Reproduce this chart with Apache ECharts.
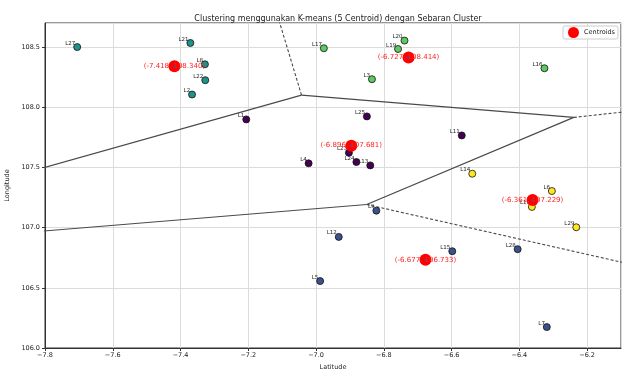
<!DOCTYPE html>
<html>
<head>
<meta charset="utf-8">
<script src="https://cdn.jsdelivr.net/npm/echarts@6/dist/echarts.min.js"></script>
<style>
  html, body { margin: 0; padding: 0; background: #fff; }
  #chart { width: 622px; height: 372px; }
</style>
</head>
<body>
<div id="chart"></div>
<script>
// titik lokasi
const pointLabels = ['L27', 'L21', 'L8', 'L22', 'L2',
  'L17', 'L20', 'L19', 'L3', 'L16',
  'L1', 'L25', 'L23', 'L24', 'L13', 'L4', 'L11',
  'L14', 'L6', 'L10', 'L29',
  'L9', 'L12', 'L15', 'L28', 'L5', 'L7'];
const pointLat = [-7.705, -7.371, -7.328, -7.327, -7.366,
  -6.977, -6.739, -6.758, -6.835, -6.326,
  -7.206, -6.850, -6.903, -6.881, -6.840, -7.022, -6.570,
  -6.539, -6.304, -6.363, -6.232,
  -6.822, -6.933, -6.598, -6.405, -6.988, -6.319];
const pointLon = [108.500, 108.534, 108.357, 108.225, 108.106,
  108.490, 108.554, 108.484, 108.233, 108.324,
  107.899, 107.924, 107.622, 107.545, 107.517, 107.534, 107.766,
  107.448, 107.304, 107.172, 107.003,
  107.141, 106.923, 106.804, 106.821, 106.556, 106.174];
const pointCluster = [2, 2, 2, 2, 2,
  3, 3, 3, 3, 3,
  0, 0, 0, 0, 0, 0, 0,
  4, 4, 4, 4,
  1, 1, 1, 1, 1, 1];

// centroid tiap cluster (index = cluster)
const centroidLat = [-6.896, -6.677, -7.418, -6.727, -6.361];
const centroidLon = [107.681, 106.733, 108.340, 108.414, 107.229];
const clusterColors = ['#440154', '#3b528b', '#21918c', '#5ec962', '#fde725'];

// delaunay triangles of the centroids, used for the voronoi ridges
const triangles = [[2, 3, 0], [3, 0, 4], [0, 4, 1], [2, 0, 1]];

const xTicks = {min: -7.8, max: -6.1, interval: 0.2};
const yTicks = {min: 106.0, max: 108.7, interval: 0.5};

const FONT = 'DejaVu Sans';

const circumcenter = (a, b, c) => {
  const bx = b[0] - a[0], by = b[1] - a[1];
  const cx = c[0] - a[0], cy = c[1] - a[1];
  const d = 2 * (bx * cy - by * cx);
  const bb = bx * bx + by * by, cc = cx * cx + cy * cy;
  return [a[0] + (cy * bb - by * cc) / d, a[1] + (bx * cc - cx * bb) / d];
};

const buildRidges = () => {
  const pts = centroidLat.map((x, i) => [x, centroidLon[i]]);
  const center = [
    pts.reduce((s, p) => s + p[0], 0) / pts.length,
    pts.reduce((s, p) => s + p[1], 0) / pts.length,
  ];
  const verts = triangles.map(t => circumcenter(pts[t[0]], pts[t[1]], pts[t[2]]));
  const edgeMap = {};
  triangles.forEach((t, ti) => {
    for (let k = 0; k < 3; k++) {
      const i = t[k], j = t[(k + 1) % 3];
      const key = Math.min(i, j) + '-' + Math.max(i, j);
      (edgeMap[key] = edgeMap[key] || {pair: [i, j], tris: []}).tris.push(ti);
    }
  });
  const solid = [];
  const dashed = [];
  Object.values(edgeMap).forEach(e => {
    if (e.tris.length === 2) {
      solid.push([verts[e.tris[0]], verts[e.tris[1]]]);
    } else {
      const p1 = pts[e.pair[0]], p2 = pts[e.pair[1]];
      const tx = p2[0] - p1[0], ty = p2[1] - p1[1];
      const len = Math.hypot(tx, ty);
      const nx = -ty / len, ny = tx / len;
      const mx = (p1[0] + p2[0]) / 2 - center[0], my = (p1[1] + p2[1]) / 2 - center[1];
      const sgn = Math.sign(mx * nx + my * ny) || 1;
      const v = verts[e.tris[0]];
      dashed.push([v, [v[0] + sgn * nx * 5, v[1] + sgn * ny * 5]]);
    }
  });
  return {solid, dashed};
};

const fmt = v => v.toFixed(1).replace('-', '\u2212');

const renderCluster = (divId) => {
  const chart = echarts.init(document.getElementById(divId), null, {renderer: 'canvas'});
  const {solid, dashed} = buildRidges();
  const series = [];

  solid.forEach((seg, i) => {
    series.push({
      id: 'ridge-' + i,
      type: 'line',
      data: seg,
      symbol: 'none',
      silent: true,
      z: 1,
      lineStyle: {color: '#4a4a4a', width: 1.2},
    });
  });
  dashed.forEach((seg, i) => {
    series.push({
      id: 'ray-' + i,
      type: 'line',
      data: seg,
      symbol: 'none',
      silent: true,
      z: 1,
      lineStyle: {color: '#4a4a4a', width: 1.1, type: [3, 2]},
    });
  });

  series.push({
    id: 'lokasi',
    type: 'scatter',
    data: pointLat.map((x, i) => ({
      value: [x, pointLon[i]],
      name: pointLabels[i],
      itemStyle: {color: clusterColors[pointCluster[i]]},
    })),
    symbolSize: 7,
    z: 3,
    itemStyle: {borderColor: '#111', borderWidth: 0.8, opacity: 1},
    label: {
      show: true,
      formatter: p => p.name,
      position: [2, 0],
      align: 'right',
      verticalAlign: 'middle',
      fontSize: 5.5,
      fontFamily: FONT,
      color: '#222',
    },
  });

  series.push({
    name: 'Centroids',
    type: 'scatter',
    data: centroidLat.map((x, i) => [x, centroidLon[i]]),
    symbolSize: 12,
    z: 4,
    itemStyle: {color: '#ff0000', opacity: 1},
    label: {
      show: true,
      position: 'inside',
      formatter: p => '(' + p.value[0].toFixed(3) + ', ' + p.value[1].toFixed(3) + ')',
      fontSize: 7,
      fontFamily: FONT,
      color: '#ff2020',
    },
  });

  // the small point markers the voronoi plot puts on each centroid
  series.push({
    id: 'vor-points',
    type: 'scatter',
    data: centroidLat.map((x, i) => [x, centroidLon[i]]),
    symbolSize: 2.5,
    z: 5,
    silent: true,
    itemStyle: {color: '#3d5a80'},
  });

  const option = {
    animation: false,
    backgroundColor: '#fff',
    textStyle: {fontFamily: FONT},
    title: {
      text: 'Clustering menggunakan K-means (5 Centroid) dengan Sebaran Cluster',
      left: 333,
      textAlign: 'center',
      top: 10,
      textStyle: {fontSize: 8, fontWeight: 'normal', color: '#222', fontFamily: FONT},
    },
    legend: {
      data: ['Centroids'],
      right: 4,
      top: 26,
      icon: 'circle',
      itemWidth: 11,
      itemHeight: 11,
      itemGap: 4,
      padding: [1, 3, 1, 5],
      borderColor: '#cccccc',
      borderWidth: 1,
      borderRadius: 2,
      backgroundColor: '#fff',
      textStyle: {fontSize: 6.5, color: '#222', fontFamily: FONT, padding: [0, 0, 0, 0]},
    },
    grid: {
      left: 45,
      right: 1,
      top: 23,
      bottom: 24,
      outerBoundsMode: 'none',
      show: true,
      borderColor: '#333',
      borderWidth: 1,
      backgroundColor: 'transparent',
    },
    xAxis: {
      type: 'value',
      min: xTicks.min,
      max: xTicks.max,
      interval: xTicks.interval,
      name: 'Latitude',
      nameLocation: 'middle',
      nameGap: 15,
      nameTextStyle: {fontSize: 6.5, color: '#222', fontFamily: FONT},
      axisLine: {show: true, onZero: false, lineStyle: {color: '#333'}},
      axisTick: {show: true, length: 3, lineStyle: {color: '#333'}},
      axisLabel: {
        formatter: fmt,
        fontSize: 6.5,
        color: '#222',
        margin: 4,
        showMaxLabel: false,
        fontFamily: FONT,
      },
      splitLine: {show: true, lineStyle: {color: '#dcdcdc', width: 1}},
    },
    yAxis: {
      type: 'value',
      min: yTicks.min,
      max: yTicks.max,
      interval: yTicks.interval,
      name: 'Longitude',
      nameLocation: 'middle',
      nameGap: 28,
      nameTextStyle: {fontSize: 6.5, color: '#222', fontFamily: FONT},
      axisLine: {show: true, onZero: false, lineStyle: {color: '#333'}},
      axisTick: {show: true, length: 3, lineStyle: {color: '#333'}},
      axisLabel: {
        formatter: v => v.toFixed(1),
        fontSize: 6.5,
        color: '#222',
        margin: 5,
        showMaxLabel: false,
        fontFamily: FONT,
      },
      splitLine: {show: true, lineStyle: {color: '#dcdcdc', width: 1}},
    },
    series: series,
  };

  chart.clear();
  chart.setOption(option);
  return chart;
};

renderCluster('chart');
</script>
</body>
</html>
